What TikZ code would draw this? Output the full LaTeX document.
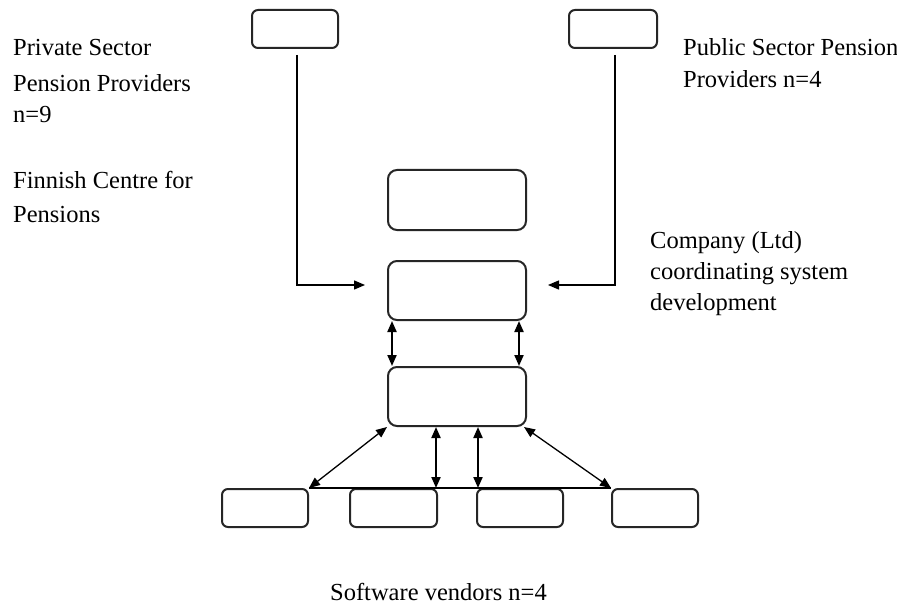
\documentclass[tikz,border=0pt]{standalone}
\usepackage{fontspec}
\setmainfont{Liberation Serif}
\usetikzlibrary{arrows.meta}
\begin{document}
\begin{tikzpicture}[x=1pt,y=-1pt,
  box/.style={draw=black!85,line width=2pt,rounded corners=6pt,minimum width=#1,inner sep=0pt},
  smallbox/.style={box=86pt,minimum height=38pt},
  bigbox/.style={box=138pt,minimum height=59pt,rounded corners=9pt},
  lbl/.style={anchor=base west,inner sep=0pt,font=\fontsize{24.5}{28}\selectfont},
  conn/.style={line width=1.3pt,-{Triangle[length=11pt,width=9pt]}},
  dbl/.style={line width=1.3pt,{Triangle[length=11pt,width=9pt]}-{Triangle[length=11pt,width=9pt]}},
  dblthick/.style={dbl,line width=2pt}]
\useasboundingbox (0,0) rectangle (897,607);
\fill[white] (0,0) rectangle (897,607);
% boxes
\node[smallbox] (tl) at (295,29) {};
\node[smallbox,minimum width=88pt] (tr) at (613,29) {};
\node[bigbox,minimum height=60pt] (fcp) at (457,200) {};
\node[bigbox] (co) at (457,290.5) {};
\node[bigbox] (dev) at (457,396.5) {};
\node[smallbox] (b1) at (265,508) {};
\node[smallbox,minimum width=87pt] (b2) at (393.5,508) {};
\node[smallbox] (b3) at (520,508) {};
\node[smallbox] (b4) at (655,508) {};
% labels
\node[lbl] (t1) at (13,56) {Private Sector};
\node[lbl] (t2) at (13,92) {Pension Providers};
\node[lbl] (t3) at (13,123) {n=9};
\node[lbl] (t4) at (13,189) {Finnish Centre for};
\node[lbl] (t5) at (13,222) {Pensions};
\node[lbl] (t6) at (683,56) {Public Sector Pension};
\node[lbl] (t7) at (683,88) {Providers n=4};
\node[lbl] (t8) at (650,248) {Company (Ltd)};
\node[lbl] (t9) at (650,279) {coordinating system};
\node[lbl] (t10) at (650,310) {development};
\node[lbl] (t11) at (330,600) {Software vendors n=4};
% connectors
\coordinate (la) at (297,55);
\coordinate (lt) at (365,285);
\coordinate (ra) at (615,55);
\coordinate (rt) at (548,285);
\draw[conn] (la) |- (lt);
\draw[conn] (ra) |- (rt);
\draw[dblthick] ([xshift=5pt]co.south west) -- ([xshift=5pt]dev.north west);
\draw[dblthick] ([xshift=-8pt]co.south east) -- ([xshift=-8pt]dev.north east);
\draw[line width=1.3pt] (b1.north east) -- (b4.north west);
\draw[dbl] (dev.south west) -- (b1.north east);
\draw[dblthick] ([xshift=-21pt]dev.south) -- ([xshift=-21pt]dev.south |- b2.north);
\draw[dblthick] ([xshift=21pt]dev.south) -- ([xshift=21pt]dev.south |- b3.north);
\draw[dbl] ([xshift=-3pt]dev.south east) -- (b4.north west);
\end{tikzpicture}
\end{document}
